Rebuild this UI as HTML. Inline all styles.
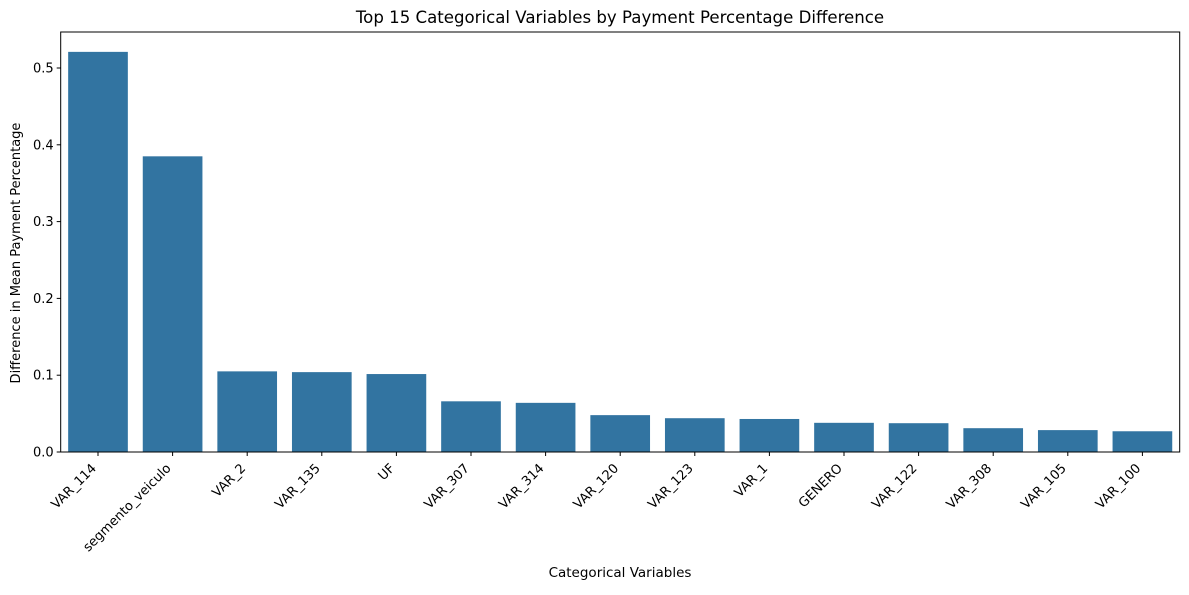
<!DOCTYPE html>
<html><head><meta charset="utf-8"><style>
body{margin:0;background:#fff;}
text{font-family:"DejaVu Sans","Liberation Sans",sans-serif;fill:#000;}
</style></head><body>
<svg id="chart" width="1189" height="590" xmlns="http://www.w3.org/2000/svg">
<text x="620" y="23" font-size="16.6" text-anchor="middle">Top 15 Categorical Variables by Payment Percentage Difference</text>
<g id="bars"></g>
<g id="axes"></g>
<text x="620" y="577" font-size="13.5" text-anchor="middle">Categorical Variables</text>
<text transform="translate(20,253) rotate(-90)" font-size="13" text-anchor="middle">Difference in Mean Payment Percentage</text>
</svg>
<script>
const categories=["VAR_114","segmento_veiculo","VAR_2","VAR_135","UF","VAR_307","VAR_314","VAR_120","VAR_123","VAR_1","GENERO","VAR_122","VAR_308","VAR_105","VAR_100"];
const values=[0.521,0.385,0.105,0.104,0.1015,0.066,0.064,0.048,0.044,0.043,0.038,0.0375,0.031,0.0285,0.027];
const yTicks=[0.0,0.1,0.2,0.3,0.4,0.5];
const yTickLabels=["0.0","0.1","0.2","0.3","0.4","0.5"];
const NS="http://www.w3.org/2000/svg";
const L=60.7,R=1179.7,T=32,B=452;
const step=(R-L)/categories.length;
function x(i){return L+step*(i+0.5);}
function y(v){return B-v*768;}
const bars=document.getElementById('bars'),axes=document.getElementById('axes');
function mk(tag,attrs,parent){const e=document.createElementNS(NS,tag);for(const k in attrs)e.setAttribute(k,attrs[k]);parent.appendChild(e);return e;}
values.forEach((v,i)=>{
 const r=mk('rect',{x:x(i)-step*0.4,y:y(v),width:step*0.8,height:B-y(v),fill:'#3274a1'},bars);
 
 
});
const frame=mk('rect',{x:L,y:T,width:R-L,height:B-T,fill:'none',stroke:'#000','stroke-width':1},axes);


yTicks.forEach((t,i)=>{
 mk('line',{x1:L-4,x2:L,y1:y(t),y2:y(t),stroke:'#000'},axes);
 const tx=mk('text',{x:L-7,y:y(t)+4.5,'font-size':13,'text-anchor':'end'},axes);
 tx.textContent=yTickLabels[i];
 
 
});
categories.forEach((c,i)=>{
 mk('line',{x1:x(i),x2:x(i),y1:B,y2:B+4,stroke:'#000'},axes);
 const tx=mk('text',{transform:`translate(${x(i)-1},${B+17}) rotate(-45)`,'font-size':13,'text-anchor':'end'},axes);
 tx.textContent=c;
 
 
});
</script>
</body></html>
